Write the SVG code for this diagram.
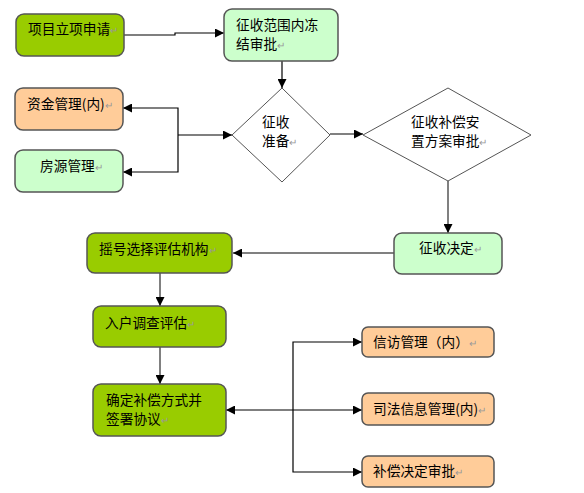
<svg xmlns="http://www.w3.org/2000/svg" width="584" height="493" viewBox="0 0 584 493">
<defs>
<marker id="ah" markerWidth="9" markerHeight="9" viewBox="0 0 9 9" refX="9" refY="4.5" orient="auto" markerUnits="userSpaceOnUse">
<path d="M0,0 L9,4.5 L0,9 Z" fill="#000"/>
</marker>
<style>
.box{stroke:#555;stroke-width:1.5}
.g1{fill:#99cc00}
.g2{fill:#ccffcc}
.or{fill:#ffcc99}
.dia{fill:#fff;stroke:#555;stroke-width:1}
.t{font-family:"Noto Sans CJK SC","Liberation Sans",sans-serif;font-size:13.7px;fill:#000}
.m{fill:#999;font-size:10px}
.lb{fill:none;stroke:#000;stroke-width:1.2}
.lg{fill:none;stroke:#808080;stroke-width:2}
</style>
</defs>
<rect width="584" height="493" fill="#fff"/>
<g id="connectors">
<path class="lb" d="M124,35 H175 V33 H224" marker-end="url(#ah)"/>
<path class="lb" d="M282,61 V88" marker-end="url(#ah)"/>
<path class="lb" d="M178,135 H232" marker-end="url(#ah)"/>
<path class="lb" d="M178,135 V108 H123" marker-end="url(#ah)"/>
<path class="lb" d="M178,135 V172 H123" marker-end="url(#ah)"/>
<path class="lg" d="M330,134 H363" marker-end="url(#ah)"/>
<path class="lg" d="M448,181 V233" marker-end="url(#ah)"/>
<path class="lg" d="M394,253 H233" marker-end="url(#ah)"/>
<path class="lg" d="M160,273 V306" marker-end="url(#ah)"/>
<path class="lg" d="M160,347 V384" marker-end="url(#ah)"/>
<path class="lb" d="M293,410 H226" marker-end="url(#ah)"/>
<path class="lb" d="M293,410 V342 H362" marker-end="url(#ah)"/>
<path class="lb" d="M293,410 H362" marker-end="url(#ah)"/>
<path class="lb" d="M293,410 V472 H362" marker-end="url(#ah)"/>
</g>
<g id="n1">
<rect class="box g1" x="16" y="14" width="108" height="42" rx="8"/>
<text class="t" x="28" y="34">项目立项申请<tspan class="m">↵</tspan></text>
</g>
<g id="n2">
<rect class="box g2" x="224" y="9" width="114" height="52" rx="8"/>
<text class="t" x="236" y="30">征收范围内冻</text>
<text class="t" x="236" y="49">结审批<tspan class="m">↵</tspan></text>
</g>
<g id="n3">
<path class="dia" d="M282,88 L330,135 L282,182 L232,135 Z"/>
<text class="t" x="262" y="127">征收</text>
<text class="t" x="262" y="146">准备<tspan class="m">↵</tspan></text>
</g>
<g id="n4">
<rect class="box or" x="15" y="88" width="108" height="42" rx="8"/>
<text class="t" x="27" y="109">资金管理(内)<tspan class="m">↵</tspan></text>
</g>
<g id="n5">
<rect class="box g2" x="15" y="150" width="108" height="42" rx="8"/>
<text class="t" x="40" y="171">房源管理<tspan class="m">↵</tspan></text>
</g>
<g id="n6">
<path class="dia" d="M448,88 L531,135 L448,181 L363,135 Z"/>
<text class="t" x="411" y="127">征收补偿安</text>
<text class="t" x="411" y="146">置方案审批<tspan class="m">↵</tspan></text>
</g>
<g id="n7">
<rect class="box g2" x="394" y="233" width="108" height="41" rx="8"/>
<text class="t" x="419" y="253">征收决定<tspan class="m">↵</tspan></text>
</g>
<g id="n8">
<rect class="box g1" x="87" y="233" width="145" height="40" rx="8"/>
<text class="t" x="99" y="254">摇号选择评估机构<tspan class="m">↵</tspan></text>
</g>
<g id="n9">
<rect class="box g1" x="93" y="306" width="133" height="41" rx="8"/>
<text class="t" x="105" y="328">入户调查评估<tspan class="m">↵</tspan></text>
</g>
<g id="n10">
<rect class="box g1" x="93" y="384" width="133" height="52" rx="8"/>
<text class="t" x="106" y="405">确定补偿方式并</text>
<text class="t" x="106" y="424">签署协议<tspan class="m">↵</tspan></text>
</g>
<g id="n11">
<rect class="box or" x="362" y="327" width="132" height="30" rx="6"/>
<text class="t" x="373" y="347">信访管理（内）<tspan class="m">↵</tspan></text>
</g>
<g id="n12">
<rect class="box or" x="362" y="393" width="132" height="32" rx="6"/>
<text class="t" x="373" y="414">司法信息管理(内)<tspan class="m">↵</tspan></text>
</g>
<g id="n13">
<rect class="box or" x="362" y="456" width="132" height="31" rx="6"/>
<text class="t" x="373" y="476">补偿决定审批<tspan class="m">↵</tspan></text>
</g>
</svg>
